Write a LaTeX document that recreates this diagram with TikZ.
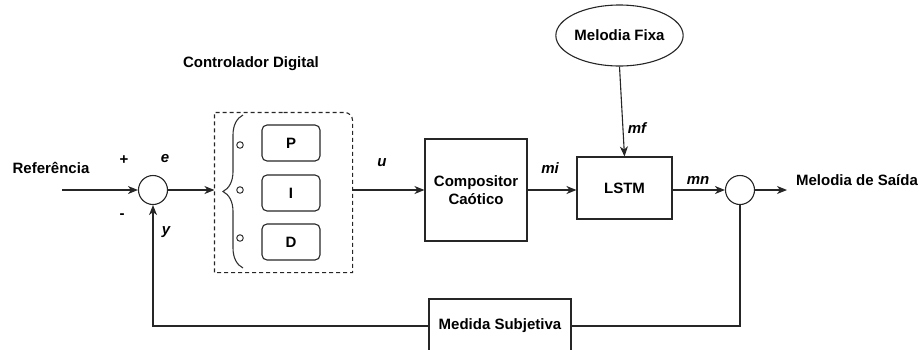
\documentclass[tikz,border=0pt]{standalone}
\usepackage{fontspec}
\setmainfont{Liberation Sans}
\usetikzlibrary{arrows.meta,positioning,decorations.pathreplacing,shapes.geometric}

\begin{document}
\begin{tikzpicture}[x=1pt,y=-1pt,>={Stealth[length=10pt,width=8pt,inset=3pt]},font=\bfseries\fontsize{15}{18}\selectfont,line width=1.1pt,draw=black!85]
\tikzstyle{blk}=[draw=black!85,align=center,inner sep=0pt]
\tikzstyle{sumnode}=[draw=black!85,circle,minimum size=29pt,inner sep=0pt]
\tikzstyle{pidbox}=[draw=black!85,rounded corners=5pt,minimum width=58pt,minimum height=36pt,inner sep=0pt]
\tikzstyle{dot}=[draw=black!80,circle,line width=1pt,minimum size=6.5pt,inner sep=0pt]
\tikzstyle{var}=[font=\bfseries\itshape\fontsize{15}{18}\selectfont]
\useasboundingbox (0,0) rectangle (923,349);
% entrada e somador
\node (ref) at (51,168) {Referência};
\coordinate (refin) at (62,190);
\node[sumnode] (lsum) at (153,190) {};
\node (plus) at (124,160) {+};
\node (minus) at (122,216) {-};
\node[var] (lbe) at (165,159) {e};
\node[var] (lby) at (166,232) {y};
% controlador PID
\node (ctrltitle) at (251,64) {Controlador Digital};
\node[minimum width=137pt,minimum height=159pt,inner sep=0pt] (ctrl) at (283.5,192.5) {};
\draw[dash pattern=on 4pt off 3pt] (ctrl.north) [rounded corners=8pt] -- (ctrl.north east) -- (ctrl.east) [sharp corners] -- (ctrl.south east) -- (ctrl.south west) -- (ctrl.north west) -- (ctrl.north);
\draw[line width=1.1pt,draw=black!80,decorate,decoration={brace,amplitude=20pt}] (243,268) -- (243,115);
\foreach \yy [count=\i] in {145,190,238}
  \node[dot] (dot\i) at (240,\yy) {};
\node[pidbox] (pbox) at (291,143) {P};
\node[pidbox] (ibox) at (291,193) {I};
\node[pidbox] (dbox) at (291,242) {D};
% planta
\node[blk,minimum width=102pt,minimum height=102pt] (comp) at (476,190) {Compositor\\Caótico};
\node[blk,minimum width=95pt,minimum height=62pt] (lstm) at (624.5,188) {LSTM};
\node[draw=black!85,ellipse,minimum width=113pt,minimum height=61pt,inner sep=0pt] (mfixa) at (619.5,35.5) {Melodia Fixa};
\node[sumnode] (rsum) at (740,190) {};
\coordinate (out) at (787,190);
\node (saida) at (857,180) {Melodia de Saída};
\node[blk,minimum width=142pt,minimum height=54pt] (med) at (500,326) {Medida Subjetiva};
\node[var] (lbu) at (382,163) {u};
\node[var] (lbmi) at (550,168) {mi};
\node[var] (lbmf) at (637,128) {mf};
\node[var] (lbmn) at (698,180) {mn};
% ligacoes
\draw[->] (refin) -- (lsum);
\draw[->] (lsum.east) -- (lsum.east -| ctrl.west);
\draw[->] (ctrl.east |- comp.west) -- (comp.west);
\draw[->] (comp.east) -- (comp.east -| lstm.west);
\draw[->] (mfixa.south) -- (lstm.north);
\draw[->] (lstm.east |- rsum.west) -- (rsum.west);
\draw[->] (rsum.east) -- (out);
\draw (rsum.south) |- (med.east);
\draw[->] (med.west) -| (lsum.south);
\end{tikzpicture}
\end{document}
